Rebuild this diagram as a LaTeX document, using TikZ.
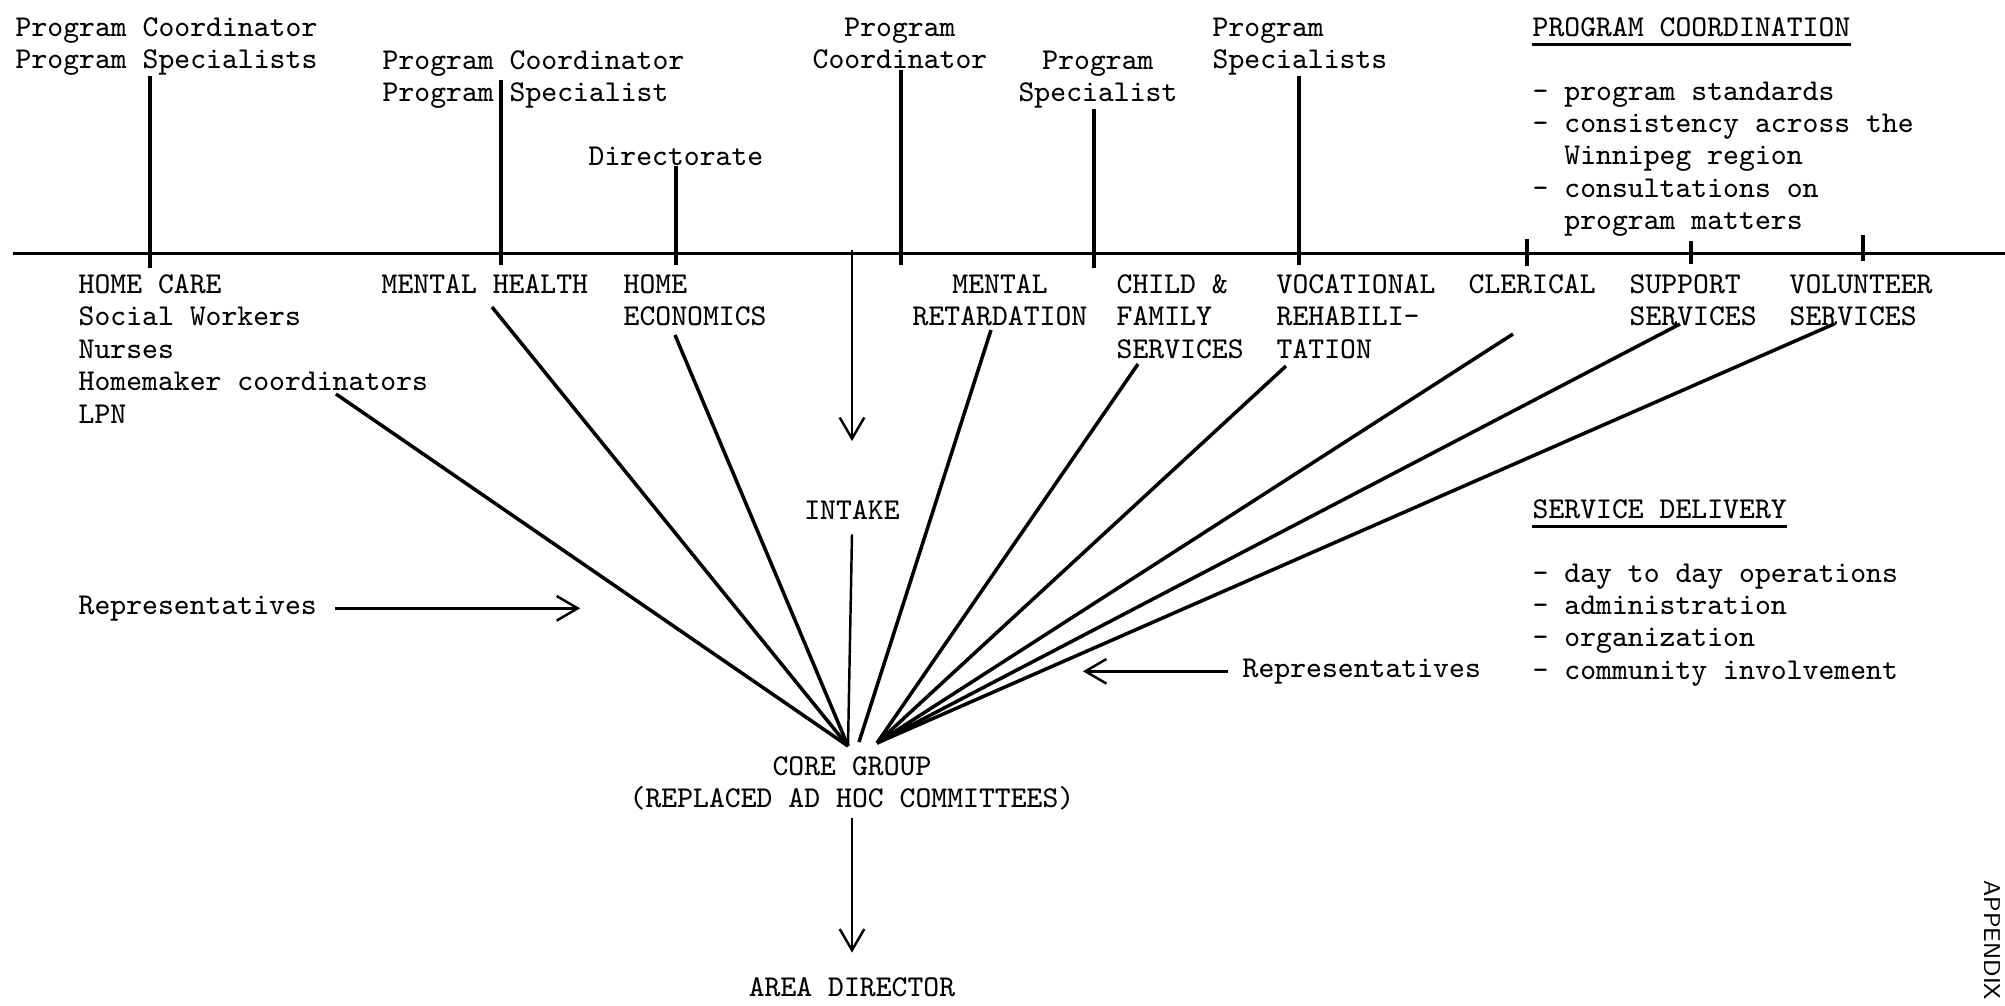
\documentclass[tikz,border=0pt]{standalone}
\usetikzlibrary{arrows.meta,positioning,calc}

\begin{document}
\begin{tikzpicture}[
    x=0.01cm, y=-0.01cm,
    lbl/.style={font=\fontsize{8.6}{9.2}\selectfont\ttfamily, inner sep=0pt,
                anchor=north west, align=left},
    ctr/.style={lbl, anchor=north, align=center},
    rule/.style={line width=0.85pt},
    tick/.style={line width=0.9pt},
    fan/.style={line width=1pt},
    arrow/.style={-{Straight Barb[length=6pt,width=7pt]}, line width=0.7pt}
]
    \useasboundingbox (0,0) rectangle (2005,1005);

    \node[lbl] (pcps1) at (15,17) {Program Coordinator\\Program Specialists};
    \node[lbl] (pcps2) at (382,50) {Program Coordinator\\Program Specialist};
    \node[lbl] (dir) at (588,146) {Directorate};
    \node[ctr] (pc3) at (900,17) {Program\\Coordinator};
    \node[ctr] (ps4) at (1098,50) {Program\\Specialist};
    \node[lbl] (ps5) at (1212,17) {Program\\Specialists};

    \node[lbl] (hdcoord) at (1532,17) {PROGRAM COORDINATION};
    \draw[rule] ([yshift=-2pt]hdcoord.south west) -- ([yshift=-2pt]hdcoord.south east);
    \node[lbl] (coordlist) at (1532,81) {- program standards\\- consistency across the\\\phantom{- }Winnipeg region\\- consultations on\\\phantom{- }program matters};

    \coordinate (axisL) at (13,253);
    \coordinate (axisR) at (2005,253);
    \draw[rule] (axisL) -- (axisR);

    \coordinate (k1) at (150,253);
    \coordinate (k2) at (501,253);
    \coordinate (k3) at (676,253);
    \coordinate (k4) at (901,253);
    \coordinate (k5) at (1094,253);
    \coordinate (k6) at (1299,253);
    \coordinate (k7) at (1527,253);
    \coordinate (k8) at (1691,253);
    \coordinate (k9) at (1863,253);
    \coordinate (kin) at (852,250);

    \draw[tick] (k1 |- pcps1.south) -- (k1) -- ++(0,15);
    \draw[tick] (k2 |- pcps2.center) -- (k2) -- ++(0,12);
    \draw[tick] (k3 |- dir.south) -- (k3) -- ++(0,12);
    \draw[tick] (k4 |- pc3.south) -- (k4) -- ++(0,12);
    \draw[tick] (k5 |- ps4.south) -- (k5) -- ++(0,15);
    \draw[tick] (k6 |- ps5.south) -- (k6) -- ++(0,12);
    \draw[tick] (k7) ++(0,-14) -- ++(0,27);
    \draw[tick] (k8) ++(0,-12) -- ++(0,23);
    \draw[tick] (k9) ++(0,-18) -- ++(0,26);

    \node[lbl] (homecare) at (78,274) {HOME CARE\\Social Workers\\Nurses\\Homemaker coordinators\\LPN};
    \node[lbl] (mh) at (381,274) {MENTAL HEALTH};
    \node[lbl] (he) at (623,274) {HOME\\ECONOMICS};
    \node[ctr] (mr) at (1000,274) {MENTAL\\RETARDATION};
    \node[lbl] (cfs) at (1116,274) {CHILD \&\\FAMILY\\SERVICES};
    \node[lbl] (vr) at (1276,274) {VOCATIONAL\\REHABILI-\\TATION};
    \node[lbl] (cler) at (1468,274) {CLERICAL};
    \node[lbl] (supp) at (1629,274) {SUPPORT\\SERVICES};
    \node[lbl] (vol) at (1789,274) {VOLUNTEER\\SERVICES};

    \node[ctr] (intake) at (852,500) {INTAKE};
    \draw[arrow] (kin) -- ++(0,191);

    \node[lbl] (rep1) at (78,595) {Representatives};
    \node[lbl] (rep2) at (1242,658) {Representatives};
    \draw[arrow] ([xshift=5pt]rep1.east) -- ++(245,0);
    \draw[arrow] ([xshift=-4pt]rep2.west) -- ++(-145,0);

    \node[lbl] (hddel) at (1532,499) {SERVICE DELIVERY};
    \draw[rule] ([yshift=-2pt]hddel.south west) -- ([yshift=-2pt]hddel.south east);
    \node[lbl] (dellist) at (1532,563) {- day to day operations\\- administration\\- organization\\- community involvement};

    \node[ctr] (core) at (852,756) {CORE GROUP\\(REPLACED AD HOC COMMITTEES)};
    \node[ctr, below=1.66cm of core] (area) {AREA DIRECTOR};
    \draw[arrow] ([yshift=-2pt]core.south) -- ([yshift=7pt]area.north);

    \coordinate (hubL) at (848,746);
    \coordinate (hubM) at (859,742);
    \coordinate (hubR) at (877,743);
    \coordinate (fHC) at (336,394);
    \coordinate (fMH) at (492,307);
    \coordinate (fHE) at (675,335);
    \coordinate (fMR) at (991,330);
    \coordinate (fCF) at (1138,364);
    \coordinate (fVR) at (1286,366);
    \coordinate (fCL) at (1513,334);
    \coordinate (fSS) at (1680,324);
    \coordinate (fVS) at (1834,324);

    \draw[fan] (fHC) -- (hubL);
    \draw[fan] (fMH) -- (hubL);
    \draw[fan] (fHE) -- (hubL);
    \draw[line width=0.7pt] ([yshift=-4pt]intake.south) -- (hubL);
    \draw[fan] (fMR) -- (hubM);
    \draw[fan] (fCF) -- (hubR);
    \draw[fan] (fVR) -- (hubR);
    \draw[fan] (fCL) -- (hubR);
    \draw[fan] (fSS) -- (hubR);
    \draw[fan] (fVS) -- (hubR);

    \node[font=\sffamily\fontsize{6.5}{8}\selectfont, rotate=-90, anchor=base west,
          inner sep=0pt] (appx) at (1984,880) {APPENDIX};
\end{tikzpicture}
\end{document}
